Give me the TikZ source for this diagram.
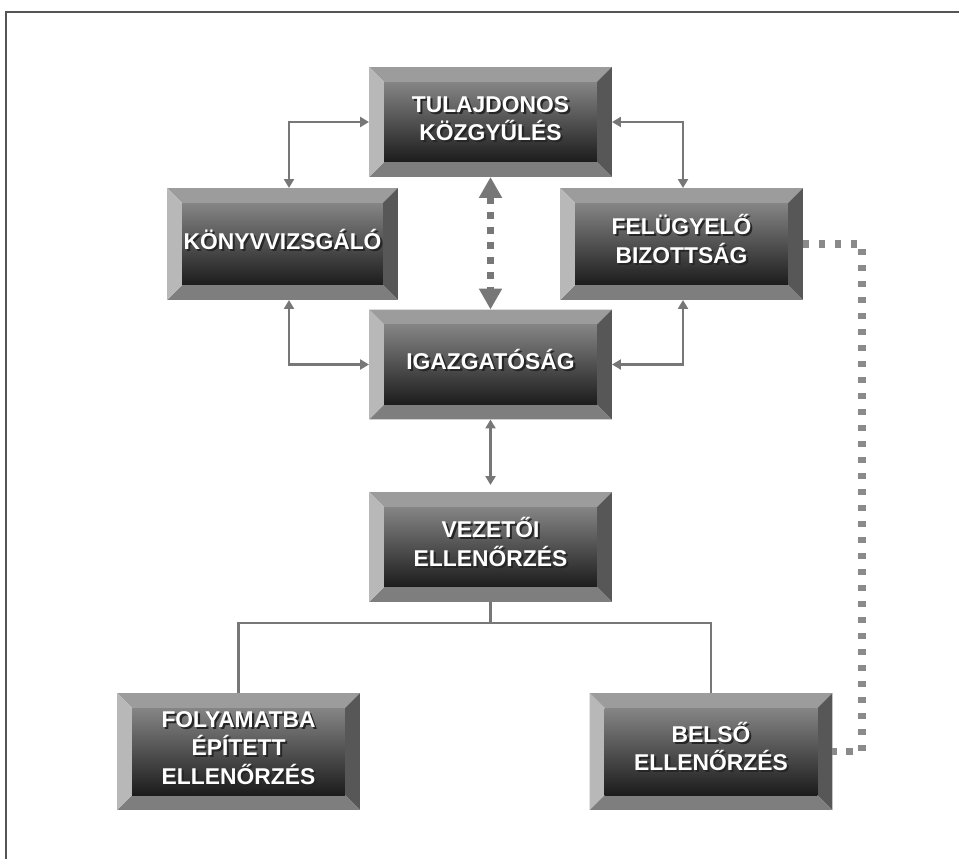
\documentclass[tikz,border=0pt]{standalone}
\usepackage{fontspec}
\usepackage{tikz}
\usetikzlibrary{arrows.meta}
\newfontfamily\boxfont{Liberation Sans}

\definecolor{linegray}{HTML}{777777}
\definecolor{dotgray}{HTML}{8A8A8A}
\definecolor{framegray}{HTML}{555555}
\definecolor{bvtop}{HTML}{9C9C9C}
\definecolor{bvleft}{HTML}{B8B8B8}
\definecolor{bvright}{HTML}{575757}
\definecolor{bvbottom}{HTML}{7E7E7E}
\definecolor{facetop}{HTML}{858585}
\definecolor{facebottom}{HTML}{1C1C1C}

\newcommand{\bv}{0.3cm}
% bevelled faces of a box, drawn inside the node
\newcommand{\bevelfaces}{%
  \coordinate (pa) at (path picture bounding box.north west);
  \coordinate (pb) at (path picture bounding box.north east);
  \coordinate (pc) at (path picture bounding box.south east);
  \coordinate (pd) at (path picture bounding box.south west);
  \coordinate (qa) at ([xshift=\bv,yshift=-\bv]pa);
  \coordinate (qb) at ([xshift=-\bv,yshift=-\bv]pb);
  \coordinate (qc) at ([xshift=-\bv,yshift=\bv]pc);
  \coordinate (qd) at ([xshift=\bv,yshift=\bv]pd);
  \fill[bvtop] (pa) -- (pb) -- (qb) -- (qa) -- cycle;
  \fill[bvright] (pb) -- (pc) -- (qc) -- (qb) -- cycle;
  \fill[bvbottom] (pc) -- (pd) -- (qd) -- (qc) -- cycle;
  \fill[bvleft] (pd) -- (pa) -- (qa) -- (qd) -- cycle;
  \shade[top color=facetop,bottom color=facebottom] (qa) rectangle (qc);
}
% white caption with a dark shadow
\newcommand{\shtext}[1]{%
  \makebox[0pt][l]{\raisebox{-1.2pt}{\hspace{1.2pt}\color{black!85}\begin{tabular}{@{}c@{}}#1\end{tabular}}}%
  \begin{tabular}{@{}c@{}}#1\end{tabular}}

\begin{document}
\begin{tikzpicture}[x=0.02cm,y=-0.02cm]
        % bevelled boxes and connectors
        \tikzstyle{bevel} = [rectangle,inner sep=0pt,outer sep=0pt,text=white,
            font=\boxfont\bfseries\fontsize{13}{15.3}\selectfont,path picture={\bevelfaces}];
        \tikzstyle{wide} = [bevel,minimum width=4.86cm,minimum height=2.2cm];
        \tikzstyle{tall} = [bevel,minimum width=4.86cm,minimum height=2.34cm];
        \tikzstyle{conn} = [draw=linegray,line width=1.6pt,>={Triangle[length=0.18cm,width=0.2cm]}];
        \tikzstyle{dotarrow} = [draw=linegray,line width=0.14cm,dash pattern=on 0.14cm off 0.16cm,
            >={Triangle[length=0.42cm,width=0.44cm]}];
        \tikzstyle{dotline} = [draw=dotgray,line width=0.15cm,dash pattern=on 0.13cm off 0.19cm];

        \useasboundingbox (0,0) rectangle (959,858);
        \clip (0,0) rectangle (959,858);
        \draw[framegray,line width=1.2pt] (6,12) rectangle (990,890);

        \node[wide] (tulaj) at (490.5,122) {\shtext{TULAJDONOS\\KÖZGYŰLÉS}};
        \node[wide,minimum width=4.62cm,minimum height=2.24cm] (konyv) at (282.5,244) {\shtext{KÖNYVVIZSGÁLÓ}};
        \node[wide,minimum height=2.24cm] (felugy) at (681.5,244) {\shtext{FELÜGYELŐ\\BIZOTTSÁG}};
        \node[wide] (igazg) at (490.5,364.5) {\shtext{IGAZGATÓSÁG}};
        \node[wide] (vezet) at (490.5,547) {\shtext{VEZETŐI\\ELLENŐRZÉS}};
        \node[tall] (folyam) at (238.5,751.5) {\shtext{FOLYAMATBA\\ÉPÍTETT\\ELLENŐRZÉS}};
        \node[tall] (belso) at (711,751.5) {\shtext{BELSŐ\\ELLENŐRZÉS}};

        \draw[conn,<->] (tulaj.west) -| ([xshift=0.13cm]konyv.north);
        \draw[conn,<->] ([xshift=0.13cm]konyv.south) |- (igazg.west);
        \draw[conn,<->] (tulaj.east) -| ([xshift=0.03cm]felugy.north);
        \draw[conn,<->] ([xshift=0.03cm]felugy.south) |- (igazg.east);
        \draw[dotarrow,<->] (tulaj.south) -- (igazg.north);
        \draw[conn,<->] (igazg.south) -- ([yshift=0.14cm]vezet.north);

        \draw[conn] (vezet.south) -- ++(0,21) coordinate (fork);
        \draw[conn] (fork) -| (folyam.north);
        \draw[conn] (fork) -| (belso.north);

        \draw[dotline] (felugy.east) -- ++(59,0) |- (belso.east);
    \end{tikzpicture}
\end{document}
